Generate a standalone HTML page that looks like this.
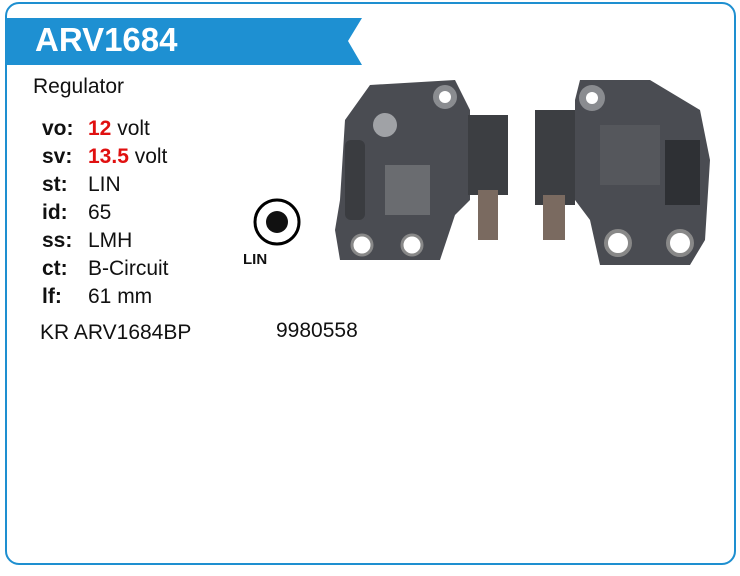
<!DOCTYPE html>
<html><head><style>
body{margin:0;width:740px;height:576px;background:#fff;font-family:"Liberation Sans",Arial,sans-serif;position:relative;overflow:hidden}
.frame{position:absolute;left:5px;top:2px;width:727px;height:559px;border:2px solid #1e8fd0;border-radius:14px}
.t{position:absolute;font-size:21px;color:#111;white-space:nowrap}
.b{font-weight:bold}
.r{color:#e01010;font-weight:bold}
</style></head><body>
<div class="frame"></div>
<svg style="position:absolute;left:0;top:0" width="740" height="576">
<polygon points="6,18 362,18 348,41 362,65 6,65" fill="#1e90d2"/>
<circle cx="277" cy="222" r="22" fill="none" stroke="#000" stroke-width="3"/>
<circle cx="277" cy="222" r="11" fill="#111"/>
<path d="M370,85 L455,80 L470,110 L470,200 L455,215 L440,260 L340,260 L335,230 L340,200 L345,120 Z" fill="#4a4c52"/>
<rect x="345" y="140" width="20" height="80" rx="6" fill="#3a3c40"/>
<circle cx="445" cy="97" r="12" fill="#8a8c90"/><circle cx="445" cy="97" r="6" fill="#fff"/>
<circle cx="385" cy="125" r="12" fill="#a0a2a6"/>
<rect x="385" y="165" width="45" height="50" fill="#6a6c70"/>
<circle cx="362" cy="245" r="10" fill="#fff" stroke="#888" stroke-width="3"/>
<circle cx="412" cy="245" r="10" fill="#fff" stroke="#888" stroke-width="3"/>
<rect x="468" y="115" width="40" height="80" fill="#3c3e42"/>
<rect x="478" y="190" width="20" height="50" fill="#7a6a60"/>
<path d="M580,80 L650,80 L700,110 L710,160 L705,240 L690,265 L600,265 L590,220 L575,200 L575,100 Z" fill="#4a4c52"/>
<circle cx="592" cy="98" r="13" fill="#8a8c90"/><circle cx="592" cy="98" r="6" fill="#fff"/>
<rect x="600" y="125" width="60" height="60" fill="#55575c"/>
<rect x="665" y="140" width="35" height="65" fill="#2e3034"/>
<circle cx="618" cy="243" r="12" fill="#fff" stroke="#888" stroke-width="4"/>
<circle cx="680" cy="243" r="12" fill="#fff" stroke="#888" stroke-width="4"/>
<rect x="535" y="110" width="40" height="95" fill="#3c3e42"/>
<rect x="543" y="195" width="22" height="45" fill="#7a6a60"/>
</svg>
<div class="t b" style="left:35px;top:21px;font-size:33px;color:#fff">ARV1684</div>
<div class="t" style="left:33px;top:75px">Regulator</div>
<div class="t b" style="left:42px;top:117px">vo:</div><div class="t" style="left:88px;top:117px"><span class="r">12</span> volt</div>
<div class="t b" style="left:42px;top:145px">sv:</div><div class="t" style="left:88px;top:145px"><span class="r">13.5</span> volt</div>
<div class="t b" style="left:42px;top:173px">st:</div><div class="t" style="left:88px;top:173px">LIN</div>
<div class="t b" style="left:42px;top:201px">id:</div><div class="t" style="left:88px;top:201px">65</div>
<div class="t b" style="left:42px;top:229px">ss:</div><div class="t" style="left:88px;top:229px">LMH</div>
<div class="t b" style="left:42px;top:257px">ct:</div><div class="t" style="left:88px;top:257px">B-Circuit</div>
<div class="t b" style="left:42px;top:285px">lf:</div><div class="t" style="left:88px;top:285px">61 mm</div>
<div class="t" style="left:40px;top:321px">KR ARV1684BP</div>
<div class="t" style="left:276px;top:319px">9980558</div>
<div class="t b" style="left:243px;top:251px;font-size:15px">LIN</div>
</body></html>
